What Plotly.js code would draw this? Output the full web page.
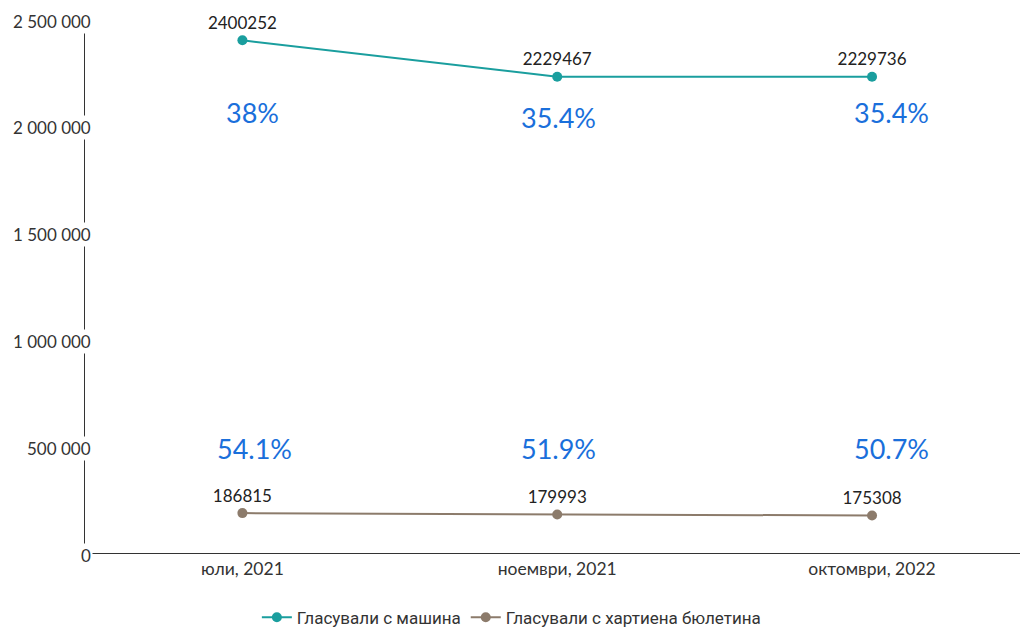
<!DOCTYPE html>
<html>
<head>
<meta charset="utf-8">
<script src="https://cdn.plot.ly/plotly-3.0.1.min.js"></script>
<style>html,body{margin:0;padding:0;background:#fff;}#chart{width:1020px;height:627px;}</style>
</head>
<body>
<div id="chart"></div>
<script>
const categories = ['юли, 2021', 'ноември, 2021', 'октомври, 2022'];
const machineVotes = [2400252, 2229467, 2229736];
const paperVotes = [186815, 179993, 175308];
const machinePct = ['38%', '35.4%', '35.4%'];
const paperPct = ['54.1%', '51.9%', '50.7%'];
const yTickValues = [0, 500000, 1000000, 1500000, 2000000, 2500000];
const yTickLabels = ['0', '500 000', '1 000 000', '1 500 000', '2 000 000', '2 500 000'];
const seriesNames = ['Гласували с машина', 'Гласували с хартиена бюлетина'];

const teal = '#1a9e9e';
const brown = '#8c7b6b';
const blue = '#1a6fdb';

const traces = [
  {x: categories, y: machineVotes, name: seriesNames[0], type: 'scatter', mode: 'lines+markers+text',
   text: machineVotes.map(String), textposition: 'top center',
   textfont: {family: 'Lato, sans-serif', size: 17, color: '#222'},
   line: {color: teal, width: 2}, marker: {color: teal, size: 10}, cliponaxis: false},
  {x: categories, y: paperVotes, name: seriesNames[1], type: 'scatter', mode: 'lines+markers+text',
   text: paperVotes.map(String), textposition: 'top center',
   textfont: {family: 'Lato, sans-serif', size: 17, color: '#222'},
   line: {color: brown, width: 2}, marker: {color: brown, size: 10}, cliponaxis: false}
];

const annotations = [];
const machinePctY = [2060000, 2040000, 2060000];
const paperPctY = [487000, 487000, 487000];
const pctShift = [10, 1, 19];
machinePct.forEach((t, i) => annotations.push({x: categories[i], y: machinePctY[i], xref: 'x', yref: 'y', text: t, showarrow: false,
  xshift: pctShift[i], font: {family: 'Lato, sans-serif', size: 27, color: blue}}));
paperPct.forEach((t, i) => annotations.push({x: categories[i], y: paperPctY[i], xref: 'x', yref: 'y', text: t, showarrow: false,
  xshift: pctShift[i] + (i === 0 ? 2 : 0), font: {family: 'Lato, sans-serif', size: 27, color: blue}}));
yTickValues.forEach((v, i) => annotations.push({x: 0, y: v, xref: 'paper', yref: 'y', text: yTickLabels[i], showarrow: false,
  xanchor: 'right', yanchor: 'middle', xshift: 8, yshift: -2, bgcolor: '#fff', borderpad: 1,
  font: {family: 'Lato, sans-serif', size: 17, color: '#333'}}));

const layout = {
  width: 1020, height: 627,
  margin: {l: 85, r: 0, t: 19, b: 74, autoexpand: false},
  paper_bgcolor: '#fff', plot_bgcolor: '#fff',
  showlegend: true,
  legend: {orientation: 'h', x: 0.456, xanchor: 'center', y: -0.121, yanchor: 'middle',
    font: {family: 'Roboto, sans-serif', size: 17, color: '#333'}, itemwidth: 30},
  xaxis: {type: 'category', range: [-0.5, 2.47], showgrid: false, zeroline: false,
    showline: true, linecolor: '#333', linewidth: 1, ticks: '',
    tickfont: {family: 'Lato, sans-serif', size: 17.5, color: '#333'}},
  yaxis: {range: [0, 2500000], showgrid: false, zeroline: false, showline: true, linecolor: '#333', linewidth: 1,
    showticklabels: false, ticks: '', tickvals: yTickValues},
  annotations: annotations
};

Plotly.newPlot('chart', traces, layout, {displayModeBar: false, staticPlot: true});
</script>
</body>
</html>
